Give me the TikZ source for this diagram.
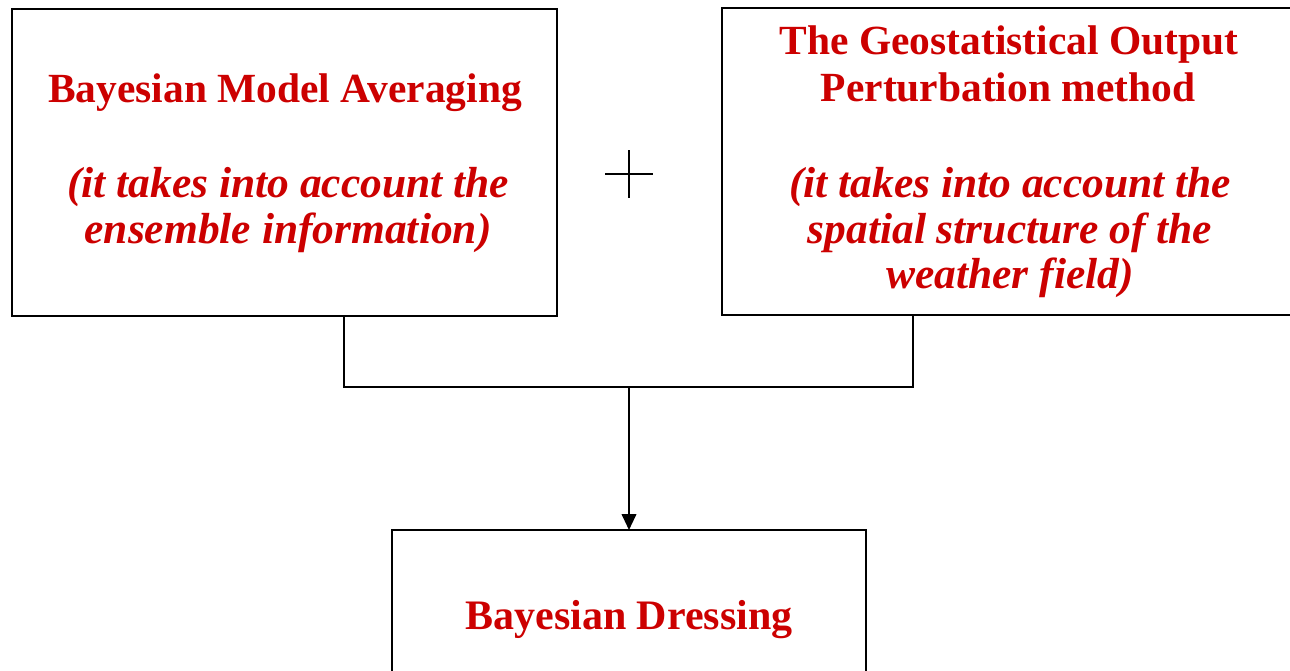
\documentclass[tikz,border=0pt]{standalone}
\usepackage{fontspec}
\setmainfont{Liberation Serif}
\usetikzlibrary{arrows.meta}
\definecolor{txtred}{RGB}{204,0,0}
\begin{document}
\begin{tikzpicture}[x=0.75pt,y=-0.75pt,
  boxline/.style={draw=black,line width=1.45pt,fill=none},
  conn/.style={draw=black,line width=1.45pt},
  tline/.style={anchor=base,inner sep=0pt,text=txtred,font=\fontsize{31.1pt}{35pt}\selectfont\bfseries},
  iline/.style={anchor=base,inner sep=0pt,text=txtred,font=\fontsize{32.6pt}{36pt}\selectfont\bfseries\itshape},
  bline/.style={anchor=base,inner sep=0pt,text=txtred,font=\fontsize{31.5pt}{35pt}\selectfont\bfseries}]
\useasboundingbox (0,0) rectangle (1290,671);
% boxes
\draw[boxline] (12,9) rectangle (557,316);
\coordinate (Abot) at (344,316);
\draw[boxline] (722,8) rectangle (1292,315);
\coordinate (Bbot) at (913,315);
\draw[boxline] (392,530) rectangle (866,680);
\coordinate (Ctop) at (629,530);
% texts box A
\node[tline] (a1) at (285,102) {Bayesian Model Averaging};
\node[iline] (a2) at (288,197) {(it takes into account the};
\node[iline] (a3) at (288,243) {ensemble information)};
% texts box B
\node[tline] (b1) at (1009,54) {The Geostatistical Output};
\node[tline] (b2) at (1008,101) {Perturbation method};
\node[iline] (b3) at (1010,197) {(it takes into account the};
\node[iline] (b4) at (1010,243) {spatial structure of the};
\node[iline] (b5) at (1010,288) {weather field)};
% text box C
\node[bline] (c1) at (629,629) {Bayesian Dressing};
% plus sign
\coordinate (plusc) at (629,174);
\draw[line width=0.9pt] (605,174) -- (653,174);
\draw[line width=0.9pt] (629,150) -- (629,198);
% connectors
\coordinate (join) at (629,387);
\draw[conn] (Abot) |- (join) -| (Bbot);
\draw[conn,-{Triangle[length=12pt,width=11pt]}] (join) -- (Ctop);
\end{tikzpicture}
\end{document}
